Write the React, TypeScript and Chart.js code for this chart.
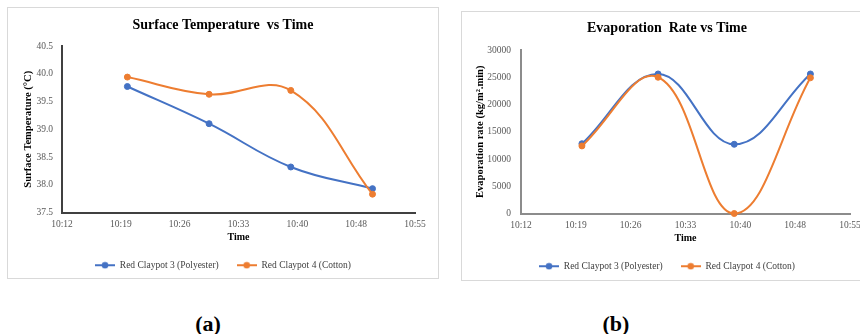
import React, { useEffect, useRef } from 'react';
import { Chart, registerables } from 'chart.js';

Chart.register(...registerables);

// ---------- data ----------
const sampleTimes = ['10:20', '10:30', '10:40', '10:50'];
const seriesNames = ['Red Claypot 3 (Polyester)', 'Red Claypot 4 (Cotton)'];
const tempPolyester = [39.77, 39.1, 38.32, 37.93];
const tempCotton = [39.94, 39.63, 39.7, 37.83];
const evapPolyester = [12800, 25600, 12700, 25600];
const evapCotton = [12400, 25000, 0, 24900];
// x axis ticks (minutes after midnight) and their labels
const xTickValues = [612, 619.2, 626.4, 633.6, 640.8, 648, 655.2];
const xTickLabels = ['10:12', '10:19', '10:26', '10:33', '10:40', '10:48', '10:55'];
const tempTicks = [37.5, 38.0, 38.5, 39.0, 39.5, 40.0, 40.5];
const evapTicks = [0, 5000, 10000, 15000, 20000, 25000, 30000];

const BLUE = '#4472C4';
const ORANGE = '#ED7D31';
const SERIF = "'Times New Roman', 'Liberation Serif', serif";

const toMin = (s: string) => {
  const [h, m] = s.split(':').map(Number);
  return h * 60 + m;
};

function legendMarker(color: string) {
  const c = document.createElement('canvas');
  c.width = 20;
  c.height = 8;
  const ctx = c.getContext('2d')!;
  ctx.strokeStyle = color;
  ctx.lineWidth = 2;
  ctx.beginPath();
  ctx.moveTo(0, 4);
  ctx.lineTo(20, 4);
  ctx.stroke();
  ctx.fillStyle = color;
  ctx.beginPath();
  ctx.arc(10, 4, 3.3, 0, Math.PI * 2);
  ctx.fill();
  return c;
}

type Spec = {
  left: number;
  top: number;
  width: number;
  height: number;
  title: string;
  yTitle: string;
  series: number[][];
  yTicks: number[];
  yFormat: (v: number) => string;
  axisColor: string;
  padLeft: number;
  padRight: number;
  padBottom: number;
  titlePadTop: number;
  titlePadBottom: number;
  yWidth: number;
  yTitlePad: number;
  yTickPad: number;
};

function LineChart({ spec }: { spec: Spec }) {
  const ref = useRef<HTMLCanvasElement>(null);
  useEffect(() => {
    const colors = [BLUE, ORANGE];
    const markers = colors.map(legendMarker);
    const yT = spec.yTicks;
    const chart = new Chart(ref.current!, {
      type: 'line',
      data: {
        datasets: spec.series.map((vals, i) => ({
          label: seriesNames[i],
          data: vals.map((v, j) => ({ x: toMin(sampleTimes[j]), y: v })),
          borderColor: colors[i],
          backgroundColor: colors[i],
          pointBackgroundColor: colors[i],
          pointBorderColor: colors[i],
          pointRadius: 3,
          pointBorderWidth: 1,
          borderWidth: 2,
          tension: 0.4,
          clip: false as any,
          order: i === 0 ? 1 : 0,
        })),
      },
      options: {
        responsive: false,
        animation: false,
        devicePixelRatio: 1,
        layout: {
          padding: { left: spec.padLeft, right: spec.padRight, top: 0, bottom: spec.padBottom },
        },
        plugins: {
          tooltip: { enabled: false },
          title: {
            display: true,
            text: spec.title,
            color: '#000',
            font: { family: SERIF, size: 14, weight: 'bold', lineHeight: 1 },
            padding: { top: spec.titlePadTop, bottom: spec.titlePadBottom },
          },
          legend: {
            position: 'bottom',
            labels: {
              color: '#404040',
              font: { family: SERIF, size: 9.5 },
              padding: 18,
              usePointStyle: true,
              pointStyleWidth: 20,
              generateLabels: (ch: any) =>
                ch.data.datasets.map((ds: any, i: number) => ({
                  text: ds.label,
                  fillStyle: colors[i],
                  strokeStyle: colors[i],
                  fontColor: '#404040',
                  lineWidth: 0,
                  pointStyle: markers[i],
                  hidden: false,
                  datasetIndex: i,
                })),
            },
          },
        },
        scales: {
          x: {
            type: 'linear',
            min: xTickValues[0],
            max: xTickValues[xTickValues.length - 1],
            afterBuildTicks: (s: any) => {
              s.ticks = xTickValues.map((v) => ({ value: v }));
            },
            afterFit: (s: any) => {
              s.height = 30;
            },
            ticks: {
              autoSkip: false,
              maxRotation: 0,
              padding: 6,
              color: '#595959',
              font: { family: SERIF, size: 9.5 },
              callback: (_v: any, idx: number) => xTickLabels[idx],
            },
            grid: { display: false, drawTicks: false },
            border: { color: spec.axisColor, width: 2 },
            title: {
              display: true,
              text: 'Time',
              color: '#000',
              font: { family: SERIF, size: 10, weight: 'bold', lineHeight: 1 },
              padding: { top: 0, bottom: 0 },
            },
          },
          y: {
            min: yT[0],
            max: yT[yT.length - 1],
            afterBuildTicks: (s: any) => {
              s.ticks = yT.map((v) => ({ value: v }));
            },
            afterFit: (s: any) => {
              s.width = spec.yWidth;
            },
            ticks: {
              padding: spec.yTickPad,
              color: '#595959',
              font: { family: SERIF, size: 9.5 },
              callback: (v: any) => spec.yFormat(Number(v)),
            },
            grid: { display: false, drawTicks: false },
            border: { color: spec.axisColor, width: 2 },
            title: {
              display: true,
              text: spec.yTitle,
              color: '#000',
              font: { family: SERIF, size: 10.5, weight: 'bold', lineHeight: 1 },
              padding: { top: spec.yTitlePad, bottom: 0 },
            },
          },
        },
      } as any,
    });
    return () => chart.destroy();
  }, []);
  return (
    <canvas
      ref={ref}
      width={spec.width}
      height={spec.height}
      style={{
        position: 'absolute',
        left: spec.left,
        top: spec.top,
        width: spec.width,
        height: spec.height,
      }}
    />
  );
}

const specA: Spec = {
  left: 8,
  top: 8,
  width: 430,
  height: 280,
  title: 'Surface Temperature  vs Time',
  yTitle: 'Surface Temperature (°C)',
  series: [tempPolyester, tempCotton],
  yTicks: tempTicks,
  yFormat: (v) => v.toFixed(1),
  axisColor: '#404040',
  padLeft: 23,
  padRight: 23,
  padBottom: 8,
  titlePadTop: 10,
  titlePadBottom: 14,
  yWidth: 31,
  yTitlePad: -8,
  yTickPad: 9,
};

const specB: Spec = {
  left: 462,
  top: 12,
  width: 410,
  height: 276,
  title: 'Evaporation  Rate vs Time',
  yTitle: 'Evaporation rate (kg/m².min)',
  series: [evapPolyester, evapCotton],
  yTicks: evapTicks,
  yFormat: (v) => String(v),
  axisColor: '#8c8c8c',
  padLeft: 22,
  padRight: 22,
  padBottom: 7,
  titlePadTop: 9,
  titlePadBottom: 15,
  yWidth: 37,
  yTitlePad: -9,
  yTickPad: 10,
};

export default function App() {
  const figLabel: React.CSSProperties = {
    position: 'absolute',
    top: 313,
    width: 60,
    textAlign: 'center',
    fontFamily: SERIF,
    fontWeight: 'bold',
    fontSize: 22,
    lineHeight: '22px',
    color: '#000',
  };
  return (
    <div
      style={{
        position: 'fixed',
        left: 0,
        top: 0,
        width: 860,
        height: 334,
        overflow: 'hidden',
        background: '#fff',
      }}
    >
      <div
        style={{
          position: 'absolute',
          left: 7,
          top: 7,
          width: 432,
          height: 272,
          border: '1px solid #d9d9d9',
          boxSizing: 'border-box',
        }}
      />
      <div
        style={{
          position: 'absolute',
          left: 461,
          top: 11,
          width: 420,
          height: 270,
          border: '1px solid #d9d9d9',
          boxSizing: 'border-box',
        }}
      />
      <LineChart spec={specA} />
      <LineChart spec={specB} />
      <div style={{ ...figLabel, left: 178 }}>(a)</div>
      <div style={{ ...figLabel, left: 586 }}>(b)</div>
    </div>
  );
}
